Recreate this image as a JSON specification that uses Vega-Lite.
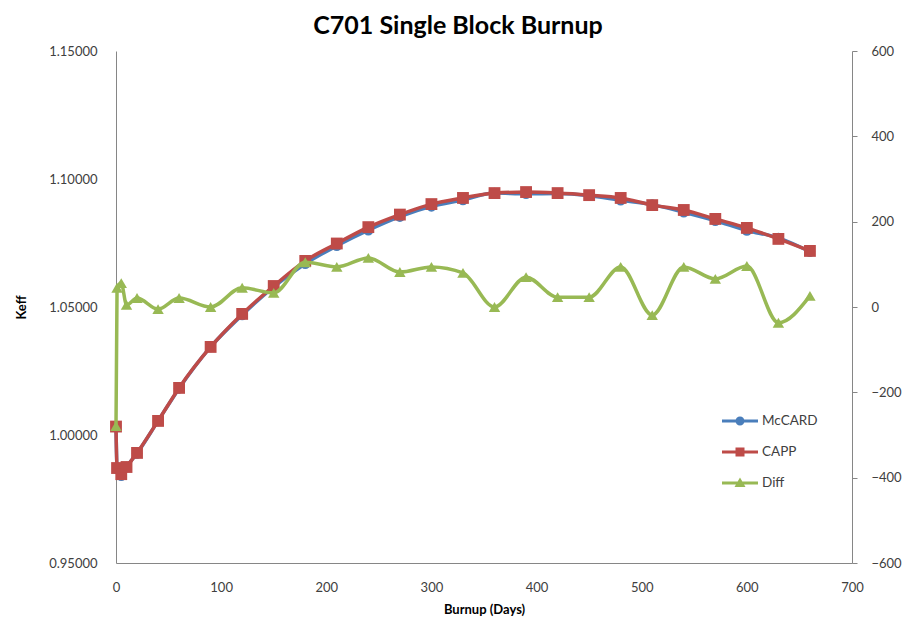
{
  "$schema": "https://vega.github.io/schema/vega-lite/v6.json",
  "width": 736,
  "height": 512,
  "autosize": "none",
  "padding": {"left": 116, "top": 51, "right": 62, "bottom": 71},
  "background": "white",
  "title": {"text": "C701 Single Block Burnup", "fontSize": 25, "font": "Lato", "fontWeight": "bold", "color": "#000000", "anchor": "middle", "offset": 6, "dx": -26},
  "config": {
    "view": {"stroke": null},
    "axis": {"grid": false, "labelFont": "Lato", "titleFont": "Lato", "labelFontSize": 13, "titleFontSize": 13, "labelColor": "#404040", "titleColor": "#000000", "titleFontWeight": "bold", "domainColor": "#868686", "tickColor": "#868686", "labelFlush": false}
  },
  "data": {"values": [
    {"day": 0, "series": "McCARD", "value": 1.0035},
    {"day": 1, "series": "McCARD", "value": 0.9867},
    {"day": 5, "series": "McCARD", "value": 0.9841},
    {"day": 10, "series": "McCARD", "value": 0.9875},
    {"day": 20, "series": "McCARD", "value": 0.9928},
    {"day": 40, "series": "McCARD", "value": 1.0055},
    {"day": 60, "series": "McCARD", "value": 1.0182},
    {"day": 90, "series": "McCARD", "value": 1.0344},
    {"day": 120, "series": "McCARD", "value": 1.0469},
    {"day": 150, "series": "McCARD", "value": 1.0579},
    {"day": 180, "series": "McCARD", "value": 1.0669},
    {"day": 210, "series": "McCARD", "value": 1.0739},
    {"day": 240, "series": "McCARD", "value": 1.0800},
    {"day": 270, "series": "McCARD", "value": 1.0853},
    {"day": 300, "series": "McCARD", "value": 1.0893},
    {"day": 330, "series": "McCARD", "value": 1.0918},
    {"day": 360, "series": "McCARD", "value": 1.0945},
    {"day": 390, "series": "McCARD", "value": 1.0942},
    {"day": 420, "series": "McCARD", "value": 1.0943},
    {"day": 450, "series": "McCARD", "value": 1.0935},
    {"day": 480, "series": "McCARD", "value": 1.0917},
    {"day": 510, "series": "McCARD", "value": 1.0900},
    {"day": 540, "series": "McCARD", "value": 1.0870},
    {"day": 570, "series": "McCARD", "value": 1.0837},
    {"day": 600, "series": "McCARD", "value": 1.0799},
    {"day": 630, "series": "McCARD", "value": 1.0770},
    {"day": 660, "series": "McCARD", "value": 1.0716},
    {"day": 0, "series": "CAPP", "value": 1.0033},
    {"day": 1, "series": "CAPP", "value": 0.9871},
    {"day": 5, "series": "CAPP", "value": 0.9847},
    {"day": 10, "series": "CAPP", "value": 0.9875},
    {"day": 20, "series": "CAPP", "value": 0.9930},
    {"day": 40, "series": "CAPP", "value": 1.0055},
    {"day": 60, "series": "CAPP", "value": 1.0184},
    {"day": 90, "series": "CAPP", "value": 1.0344},
    {"day": 120, "series": "CAPP", "value": 1.0473},
    {"day": 150, "series": "CAPP", "value": 1.0582},
    {"day": 180, "series": "CAPP", "value": 1.0680},
    {"day": 210, "series": "CAPP", "value": 1.0748},
    {"day": 240, "series": "CAPP", "value": 1.0812},
    {"day": 270, "series": "CAPP", "value": 1.0861},
    {"day": 300, "series": "CAPP", "value": 1.0902},
    {"day": 330, "series": "CAPP", "value": 1.0926},
    {"day": 360, "series": "CAPP", "value": 1.0945},
    {"day": 390, "series": "CAPP", "value": 1.0949},
    {"day": 420, "series": "CAPP", "value": 1.0945},
    {"day": 450, "series": "CAPP", "value": 1.0937},
    {"day": 480, "series": "CAPP", "value": 1.0926},
    {"day": 510, "series": "CAPP", "value": 1.0898},
    {"day": 540, "series": "CAPP", "value": 1.0879},
    {"day": 570, "series": "CAPP", "value": 1.0844},
    {"day": 600, "series": "CAPP", "value": 1.0809},
    {"day": 630, "series": "CAPP", "value": 1.0766},
    {"day": 660, "series": "CAPP", "value": 1.0719},
    {"day": 0, "series": "Diff", "value": -279},
    {"day": 1, "series": "Diff", "value": 45},
    {"day": 5, "series": "Diff", "value": 56},
    {"day": 10, "series": "Diff", "value": 5},
    {"day": 20, "series": "Diff", "value": 21},
    {"day": 40, "series": "Diff", "value": -5},
    {"day": 60, "series": "Diff", "value": 21},
    {"day": 90, "series": "Diff", "value": 0},
    {"day": 120, "series": "Diff", "value": 45},
    {"day": 150, "series": "Diff", "value": 33},
    {"day": 180, "series": "Diff", "value": 105},
    {"day": 210, "series": "Diff", "value": 94},
    {"day": 240, "series": "Diff", "value": 115},
    {"day": 270, "series": "Diff", "value": 82},
    {"day": 300, "series": "Diff", "value": 94},
    {"day": 330, "series": "Diff", "value": 80},
    {"day": 360, "series": "Diff", "value": 0},
    {"day": 390, "series": "Diff", "value": 70},
    {"day": 420, "series": "Diff", "value": 23},
    {"day": 450, "series": "Diff", "value": 23},
    {"day": 480, "series": "Diff", "value": 94},
    {"day": 510, "series": "Diff", "value": -19},
    {"day": 540, "series": "Diff", "value": 94},
    {"day": 570, "series": "Diff", "value": 66},
    {"day": 600, "series": "Diff", "value": 96},
    {"day": 630, "series": "Diff", "value": -37},
    {"day": 660, "series": "Diff", "value": 26}
  ]},
  "encoding": {
    "x": {"field": "day", "type": "quantitative", "scale": {"domain": [0, 700], "nice": false},
      "axis": {"title": "Burnup (Days)", "values": [0, 100, 200, 300, 400, 500, 600, 700], "ticks": false, "tickSize": 0, "labelPadding": 18, "titlePadding": 9}},
    "color": {"field": "series", "type": "nominal",
      "scale": {"domain": ["McCARD", "CAPP", "Diff"], "range": ["#4A7EBB", "#BE4B48", "#98B954"]},
      "legend": {
        "orient": "none", "legendX": 614, "legendY": 360, "title": null,
        "symbolSize": 400, "symbolStrokeWidth": 0, "labelOffset": 12, "rowPadding": 14,
        "labelFont": "Lato", "labelFontSize": 13.5, "labelColor": "#404040"
      }}
  },
  "layer": [
    {
      "transform": [{"filter": "datum.series !== 'Diff'"}],
      "encoding": {
        "y": {"field": "value", "type": "quantitative", "scale": {"domain": [0.95, 1.15], "nice": false, "zero": false},
          "axis": {"title": "Keff", "values": [0.95, 1.0, 1.05, 1.1, 1.15], "format": ".5f", "ticks": false, "tickSize": 0, "labelPadding": 19, "titlePadding": 20}}
      },
      "layer": [
        {"mark": {"type": "line", "interpolate": "monotone", "strokeWidth": 3.5}},
        {"transform": [{"filter": "datum.series === 'McCARD'"}],
          "mark": {"type": "point", "shape": "circle", "filled": true, "opacity": 1, "size": 110}},
        {"transform": [{"filter": "datum.series === 'CAPP'"}],
          "mark": {"type": "point", "shape": "square", "filled": true, "opacity": 1, "size": 140}}
      ]
    },
    {
      "transform": [{"filter": "datum.series === 'Diff'"}],
      "encoding": {
        "y": {"field": "value", "type": "quantitative", "scale": {"domain": [-600, 600], "nice": false},
          "axis": {"title": null, "orient": "right", "values": [-600, -400, -200, 0, 200, 400, 600], "tickSize": 5, "labelPadding": 14}}
      },
      "layer": [
        {"mark": {"type": "line", "interpolate": "monotone", "strokeWidth": 3.5}},
        {"mark": {"type": "point", "shape": "triangle-up", "filled": true, "opacity": 1, "size": 130}},
        {"transform": [{"filter": "false"}],
          "mark": {"type": "point", "filled": true, "opacity": 1},
          "encoding": {"shape": {"field": "series", "type": "nominal",
            "scale": {"domain": ["McCARD", "CAPP", "Diff"], "range": [
              "M-1.8,-0.15H1.8V0.15H-1.8Z M0.45,0A0.45,0.45,0,1,1,-0.45,0A0.45,0.45,0,1,1,0.45,0Z",
              "M-1.8,-0.15H1.8V0.15H-1.8Z M-0.45,-0.45H0.45V0.45H-0.45Z",
              "M-1.8,-0.15H1.8V0.15H-1.8Z M0,-0.55L0.55,0.4H-0.55Z"]}}}}
      ]
    }
  ],
  "resolve": {"scale": {"y": "independent"}}
}
